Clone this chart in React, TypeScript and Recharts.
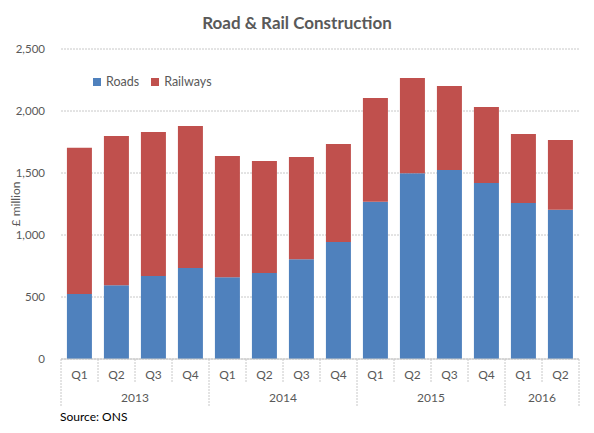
import { Bar, BarChart, CartesianGrid, XAxis, YAxis } from "recharts";

const quarters = ["Q1", "Q2", "Q3", "Q4", "Q1", "Q2", "Q3", "Q4", "Q1", "Q2", "Q3", "Q4", "Q1", "Q2"];
const years = ["2013", "2013", "2013", "2013", "2014", "2014", "2014", "2014", "2015", "2015", "2015", "2015", "2016", "2016"];
const roads = [524, 594, 669, 734, 659, 694, 804, 944, 1269, 1497, 1524, 1419, 1258, 1204];
const railways = [1180, 1204, 1162, 1145, 978, 903, 825, 790, 836, 769, 678, 613, 557, 562];
const yTicks = [0, 500, 1000, 1500, 2000, 2500];

const BLUE = "#4F81BD";
const RED = "#C0504D";
const TEXT = "#595959";
const LINE = "#c8c8c8";
const FONT = "Lato, 'Liberation Sans', sans-serif";

const data = quarters.map((q, i) => ({ key: i, q, year: years[i], roads: roads[i], railways: railways[i] }));

const legendItems = [
  { name: "Roads", color: BLUE },
  { name: "Railways", color: RED },
];

function QuarterTick(props: any) {
  const { x, y, index, payload } = props;
  const half = payload?.offset ?? 18.5;
  const left = x - half;
  const right = x + half;
  const yearStart = index === 0 || years[index] !== years[index - 1];
  const isLast = index === years.length - 1;
  // year label sits in the middle of its group of quarters
  let yearLabel = null;
  if (yearStart) {
    let n = 0;
    while (index + n < years.length && years[index + n] === years[index]) n++;
    yearLabel = (
      <text x={left + n * half} y={y + 43} textAnchor="middle" fill={TEXT} fontSize={12} fontFamily={FONT}>
        {years[index]}
      </text>
    );
  }
  return (
    <g>
      <line x1={left} x2={left} y1={y} y2={y + (yearStart ? 47 : 24)} stroke={LINE} strokeDasharray="2 1" />
      {isLast && <line x1={right} x2={right} y1={y} y2={y + 47} stroke={LINE} strokeDasharray="2 1" />}
      <text x={x} y={y + 20} textAnchor="middle" fill={TEXT} fontSize={12} fontFamily={FONT}>
        {quarters[index]}
      </text>
      {yearLabel}
    </g>
  );
}

export default function App() {
  return (
    <div style={{ position: "absolute", left: 0, top: 0, width: 594, height: 433, background: "#fff" }}>
      <div
        style={{
          position: "absolute",
          top: 12,
          width: 594,
          textAlign: "center",
          fontFamily: FONT,
          fontWeight: 700,
          fontSize: 17,
          color: TEXT,
        }}
      >
        Road &amp; Rail Construction
      </div>
      <BarChart
        width={594}
        height={433}
        data={data}
        margin={{ top: 49, right: 15, bottom: 0, left: 0 }}
        barCategoryGap="16%"
      >
        <CartesianGrid vertical={false} stroke={LINE} strokeDasharray="2 1" />
        <XAxis
          dataKey="key"
          tickLine={false}
          tickSize={0}
          tickMargin={0}
          axisLine={{ stroke: LINE }}
          interval={0}
          tick={<QuarterTick />}
          height={74}
        />
        <YAxis
          width={61}
          domain={[0, 2500]}
          ticks={yTicks}
          axisLine={false}
          tickLine={false}
          tickMargin={10}
          tick={{ fill: TEXT, fontSize: 11.5, fontFamily: FONT }}
          tickFormatter={(v: number) => v.toLocaleString("en-GB")}
          label={{
            value: "£ million",
            angle: -90,
            position: "insideLeft",
            offset: 16,
            style: { fill: TEXT, fontSize: 12, fontFamily: FONT, textAnchor: "middle" },
          }}
        />
        <Bar dataKey="roads" name="Roads" stackId="a" fill={BLUE} isAnimationActive={false} />
        <Bar dataKey="railways" name="Railways" stackId="a" fill={RED} isAnimationActive={false} />
      </BarChart>
      <div
        style={{
          position: "absolute",
          left: 93,
          top: 74,
          display: "flex",
          gap: 12,
          fontFamily: FONT,
          fontSize: 12.5,
          color: TEXT,
        }}
      >
        {legendItems.map((it) => (
          <div key={it.name} style={{ display: "flex", alignItems: "center", gap: 5 }}>
            <span style={{ display: "inline-block", width: 8, height: 8, background: it.color }} />
            <span>{it.name}</span>
          </div>
        ))}
      </div>
      <div style={{ position: "absolute", left: 60, top: 409, fontFamily: FONT, fontSize: 12, color: "#000" }}>
        Source: ONS
      </div>
    </div>
  );
}
